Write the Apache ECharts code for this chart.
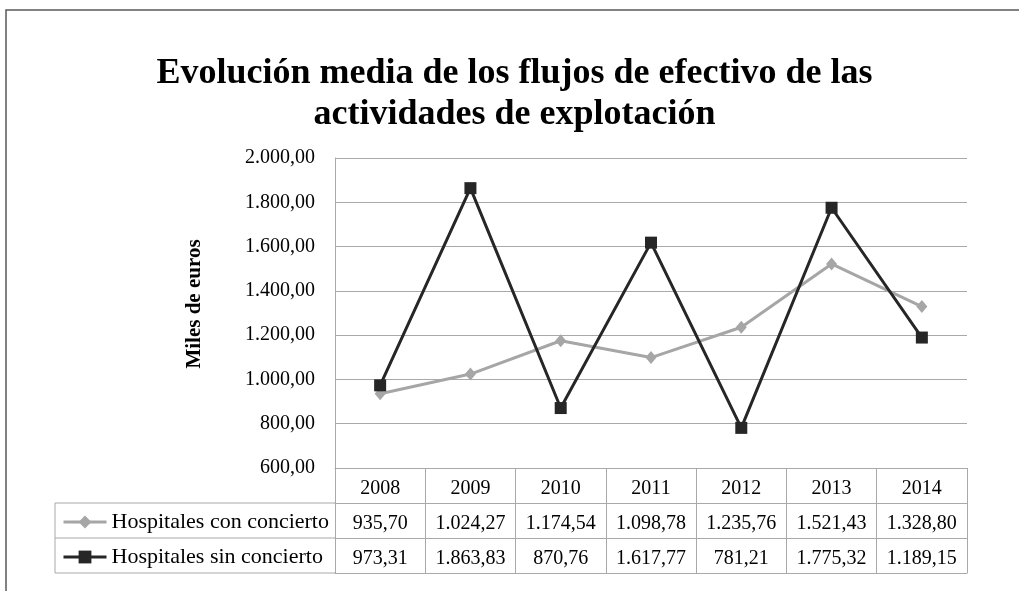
<!DOCTYPE html>
<html>
<head>
<meta charset="utf-8">
<script src="https://cdn.jsdelivr.net/npm/echarts@6/dist/echarts.min.js"></script>
<style>
  html, body { margin: 0; padding: 0; background: #ffffff; }
  #chart { width: 1019px; height: 591px; }
</style>
</head>
<body>
<div id="chart"></div>
<script>
// Años y flujos medios (miles de euros)
const years = ['2008', '2009', '2010', '2011', '2012', '2013', '2014'];
const conConcierto = [935.70, 1024.27, 1174.54, 1098.78, 1235.76, 1521.43, 1328.80];
const sinConcierto = [973.31, 1863.83, 870.76, 1617.77, 781.21, 1775.32, 1189.15];
const seriesNames = ['Hospitales con concierto', 'Hospitales sin concierto'];
const yMin = 600, yMax = 2000, yStep = 200;

// Formato numérico español: 1.234,56
function fmtEs(v) {
  const parts = v.toFixed(2).split('.');
  return parts[0].replace(/\B(?=(\d{3})+(?!\d))/g, '.') + ',' + parts[1];
}

const FONT = 'Liberation Serif';
const GRID_COLOR = '#a9a9a9';
const TEXT_COLOR = '#000000';

// Plot area and data-table geometry
const W = 1019, H = 591;
const plotLeft = 335, plotRight = 967, plotTop = 158, plotBottom = 468;
const rowH = 35;
const tableLeft = 55;

const chart = echarts.init(document.getElementById('chart'), null, { renderer: 'canvas' });

function tableAxis(offset, formatter, showTicks) {
  return {
    type: 'category',
    data: years,
    gridIndex: 0,
    position: 'bottom',
    offset: offset,
    boundaryGap: true,
    axisLine: { show: true, lineStyle: { color: GRID_COLOR, width: 1 } },
    axisTick: { show: showTicks, length: rowH, interval: 0, lineStyle: { color: GRID_COLOR, width: 1 } },
    axisLabel: {
      show: !!formatter,
      interval: 0,
      margin: 11,
      fontFamily: FONT,
      fontSize: 20,
      color: TEXT_COLOR,
      formatter: formatter || undefined
    },
    splitLine: { show: false }
  };
}

const lineColor = '#a6a6a6';
const tableLineStyle = { stroke: GRID_COLOR, lineWidth: 1 };

const option = {
  backgroundColor: '#ffffff',
  animation: false,
  title: {
    text: 'Evolución media de los flujos de efectivo de las\nactividades de explotación',
    left: '50%',
    top: 48,
    textAlign: 'center',
    textStyle: {
      fontFamily: FONT,
      fontWeight: 'bold',
      fontSize: 36,
      lineHeight: 41,
      color: TEXT_COLOR
    }
  },
  legend: {
    data: seriesNames,
    orient: 'vertical',
    left: 62,
    top: plotBottom + rowH + 8,
    padding: 0,
    itemWidth: 43,
    itemHeight: 16,
    itemGap: 13,
    selectedMode: false,
    lineStyle: { width: 3 },
    textStyle: { fontFamily: FONT, fontSize: 22, color: TEXT_COLOR }
  },
  grid: {
    left: plotLeft,
    right: W - plotRight,
    top: plotTop,
    bottom: H - plotBottom
  },
  xAxis: [
    tableAxis(0, function (v) { return v; }, true),
    tableAxis(rowH, function (v, i) { return fmtEs(conConcierto[i]); }, true),
    tableAxis(rowH * 2, function (v, i) { return fmtEs(sinConcierto[i]); }, true),
    tableAxis(rowH * 3, null, false)
  ],
  yAxis: {
    type: 'value',
    min: yMin,
    max: yMax,
    interval: yStep,
    name: 'Miles de euros',
    nameLocation: 'middle',
    nameGap: 130,
    nameTextStyle: {
      fontFamily: FONT,
      fontWeight: 'bold',
      fontSize: 21,
      color: TEXT_COLOR,
      padding: [0, 0, 0, 18]
    },
    axisLine: { show: true, lineStyle: { color: GRID_COLOR, width: 1 } },
    axisTick: { show: false },
    axisLabel: {
      margin: 20,
      fontFamily: FONT,
      fontSize: 20,
      color: TEXT_COLOR,
      formatter: fmtEs
    },
    splitLine: { show: true, lineStyle: { color: GRID_COLOR, width: 1 } }
  },
  series: [
    {
      name: seriesNames[0],
      type: 'line',
      xAxisIndex: 0,
      data: conConcierto,
      symbol: 'diamond',
      symbolSize: [11, 13],
      lineStyle: { color: lineColor, width: 3 },
      itemStyle: { color: lineColor },
      z: 2
    },
    {
      name: seriesNames[1],
      type: 'line',
      xAxisIndex: 0,
      data: sinConcierto,
      symbol: 'rect',
      symbolSize: 12,
      lineStyle: { color: '#262626', width: 3 },
      itemStyle: { color: '#262626' },
      z: 3
    }
  ],
  graphic: [
    // outer chart frame (top and left edges)
    {
      type: 'polyline',
      shape: { points: [[6, H], [6, 10], [W, 10]] },
      style: { stroke: '#5a5a5a', lineWidth: 1.5, fill: null },
      silent: true
    },
    // legend column of the data table
    {
      type: 'polyline',
      shape: { points: [[plotLeft, plotBottom + rowH], [tableLeft, plotBottom + rowH], [tableLeft, plotBottom + rowH * 3], [plotLeft, plotBottom + rowH * 3]] },
      style: Object.assign({ fill: null }, tableLineStyle),
      silent: true
    },
    {
      type: 'line',
      shape: { x1: tableLeft, y1: plotBottom + rowH * 2, x2: plotLeft, y2: plotBottom + rowH * 2 },
      style: tableLineStyle,
      silent: true
    }
  ]
};

chart.setOption(option);
</script>
</body>
</html>
